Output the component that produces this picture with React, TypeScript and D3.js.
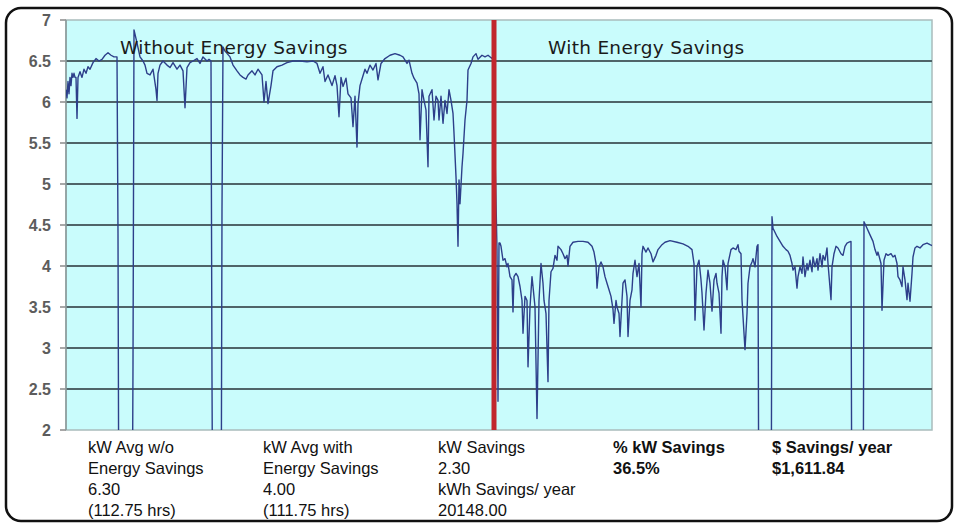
import React from 'react';
import * as d3 from 'd3';

const width = 958;
const height = 523;

// y axis ticks (kW)
const yTicks = [2, 2.5, 3, 3.5, 4, 4.5, 5, 5.5, 6, 6.5, 7];

// [hour, kW] readings before the switch-over
const withoutSavings: [number, number][] = [
  [0, 6.15], [0.25, 6.05], [0.5, 6.25], [0.75, 6.1], [1, 6.3], [1.25, 6.2], [1.5, 6.35], [1.75, 6.3],
  [2, 6.35], [2.25, 6.3], [2.5, 6.3], [2.75, 5.8], [3, 6.3], [3.5, 6.37], [4, 6.3], [4.5, 6.4],
  [5, 6.35], [5.5, 6.43], [6, 6.4], [6.75, 6.48], [7.5, 6.53], [8.25, 6.5], [9, 6.52], [9.75, 6.57],
  [10.5, 6.6], [11.25, 6.57], [12, 6.55], [12.75, 6.55], [13, 4.4], [13.25, 0],
  [16.5, 0], [16.75, 2.8], [17, 6.88], [17.75, 6.72], [18.5, 6.55], [19.25, 6.5], [19.75, 6.45],
  [20.25, 6.35], [21, 6.33], [21.75, 6.4], [22.5, 6.15], [22.75, 6.02], [23, 6.35], [23.5, 6.45],
  [24.25, 6.5], [25.25, 6.45], [26, 6.42], [26.75, 6.48], [27.75, 6.4], [28.5, 6.45], [29.25, 6.38],
  [29.75, 5.93], [30.25, 6.42], [31, 6.48], [31.75, 6.5], [32.75, 6.53], [33.5, 6.47], [34.25, 6.55],
  [35.25, 6.5], [35.75, 6.52], [36.25, 6.5], [36.5, 2.6], [36.75, 0],
  [38.75, 0], [39, 4.7], [39.25, 6.67], [39.75, 6.62], [41, 6.55], [41.75, 6.45], [42.75, 6.38],
  [43.5, 6.33], [44.25, 6.3], [45, 6.28], [45.5, 6.33], [46.5, 6.38], [47.25, 6.33], [48, 6.4],
  [49, 6.33], [49.5, 6.0], [50, 6.25], [50.5, 5.98], [51.25, 6.2], [51.75, 6.38], [52.75, 6.43],
  [54, 6.45], [55.25, 6.48], [56.75, 6.5], [58.5, 6.5], [60.25, 6.49], [61.75, 6.5], [62.75, 6.47],
  [63.5, 6.35], [64.25, 6.43], [64.75, 6.25], [65.5, 6.33], [66.5, 6.2], [67.25, 6.32], [67.75, 6.2],
  [68.25, 5.82], [68.75, 6.3], [69.25, 6.19], [70, 6.29], [70.5, 6.1], [71.25, 6.05], [71.75, 5.7],
  [72.25, 6.07], [72.75, 5.45], [73, 5.98], [73.5, 6.2], [74.25, 6.32], [74.75, 6.4], [75.25, 6.35],
  [76, 6.45], [76.75, 6.39], [77.5, 6.47], [78, 6.27], [78.75, 6.47], [79.75, 6.53], [81, 6.57],
  [82.25, 6.59], [83.5, 6.57], [84.25, 6.55], [85.25, 6.47], [85.75, 6.51], [86.5, 6.35], [87, 6.29],
  [87.75, 6.23], [88.25, 6.1], [88.5, 5.54], [89, 6.15], [89.5, 6.02], [90, 5.9], [90.5, 5.21],
  [90.75, 6.07], [91.5, 6.15], [92, 5.78], [92.5, 6.07], [93, 6.02], [93.25, 5.78], [93.75, 6.07],
  [94.25, 5.74], [94.75, 6.02], [95.25, 5.86], [95.75, 6.15], [96.25, 6.02], [96.75, 5.86], [97, 5.62],
  [97.5, 5.09], [97.75, 4.76], [98, 4.24], [98.25, 5.05], [98.5, 4.76], [99, 5.21], [99.25, 5.37],
  [99.75, 5.78], [100.25, 6.02], [100.5, 6.39], [101.25, 6.47], [101.75, 6.55], [102.5, 6.59],
  [103, 6.52], [104, 6.57], [104.75, 6.55], [105.5, 6.57], [106.5, 6.53], [106.75, 6.55],
];

// [hour, kW] readings after the switch-over
const withSavings: [number, number][] = [
  [107.75, 4.2], [108, 2.35], [108.25, 4.28], [108.5, 4.28], [108.75, 4.24], [109.25, 4.07],
  [109.75, 4.09], [110.25, 3.99], [110.5, 4.03], [111, 3.87], [111.5, 3.83], [111.75, 3.44],
  [112, 3.87], [112.5, 3.91], [113, 3.87], [113.5, 3.75], [114, 3.58], [114.25, 3.18], [114.75, 3.63],
  [115.25, 3.58], [115.5, 2.77], [116, 3.5], [116.5, 3.87], [116.75, 3.75], [117.25, 3.5],
  [117.75, 2.14], [118.25, 3.58], [118.75, 4.03], [119.25, 3.79], [119.5, 3.58], [120, 3.42],
  [120.5, 2.59], [120.75, 3.58], [121.25, 3.93], [121.75, 3.97], [122.25, 4.13], [122.75, 4.07],
  [123, 4.24], [123.75, 4.2], [124.25, 4.15], [124.75, 4.09], [125.25, 4.13], [125.5, 4.0],
  [126, 4.24], [126.75, 4.29], [128, 4.3], [129.25, 4.3], [130.5, 4.29], [131.5, 4.24], [132, 4.17],
  [132.5, 4.03], [132.75, 3.73], [133.25, 3.99], [133.75, 4.05], [134.25, 3.99], [134.75, 3.87],
  [135.25, 3.79], [135.75, 3.71], [136.25, 3.63], [136.75, 3.47], [137, 3.3], [137.5, 3.58],
  [137.75, 3.5], [138.25, 3.42], [138.5, 3.14], [139, 3.58], [139.25, 3.79], [139.75, 3.83],
  [140.25, 3.63], [140.5, 3.14], [141, 3.58], [141.5, 3.71], [141.75, 3.91], [142.25, 4.07],
  [142.75, 3.87], [143.25, 4.03], [143.75, 3.5], [144, 4.15], [144.25, 4.24], [145, 4.17],
  [145.5, 4.22], [146.25, 4.15], [146.75, 4.05], [147.5, 4.13], [148, 4.2], [149, 4.26],
  [149.75, 4.29], [151, 4.31], [152.75, 4.29], [154.25, 4.27], [155.5, 4.24], [156.5, 4.2],
  [157, 4.03], [157.25, 3.34], [157.75, 3.99], [158.25, 4.07], [158.75, 3.83], [159, 3.67],
  [159.5, 3.22], [160, 3.67], [160.5, 3.95], [161, 3.79], [161.5, 3.45], [162, 3.83], [162.5, 3.91],
  [162.75, 3.79], [163.25, 3.67], [163.75, 3.18], [164, 3.87], [164.25, 4.07], [164.75, 3.99],
  [165.25, 3.71], [165.5, 4.03], [166.25, 4.2], [166.75, 4.22], [167.5, 4.2], [168, 4.26],
  [168.25, 4.18], [168.75, 4.15], [169, 3.59], [169.5, 3.18], [169.75, 2.98], [170.25, 3.42],
  [170.5, 3.79], [171, 3.99], [171.5, 4.05], [171.75, 4.09], [172.25, 3.99], [172.75, 4.24],
  [173, 4.26], [173.25, 0],
  [176.25, 0], [176.5, 4.6], [176.75, 4.46], [177.75, 4.36], [178.5, 4.3], [179.25, 4.24], [180, 4.2],
  [180.5, 4.18], [181, 4.13], [181.5, 4.03], [181.75, 3.95], [182.25, 3.99], [182.75, 3.73],
  [183, 3.87], [183.5, 3.99], [184, 3.91], [184.25, 4.11], [184.75, 3.87], [185.25, 4.03],
  [185.5, 3.95], [186, 4.07], [186.5, 3.93], [186.75, 4.11], [187.25, 3.99], [187.75, 4.09],
  [188, 3.95], [188.5, 4.15], [189, 3.99], [189.25, 4.13], [189.75, 4.07], [190.25, 4.22],
  [190.5, 4.03], [191.25, 3.59], [191.5, 3.99], [192, 4.15], [192.5, 4.24], [193, 4.22],
  [193.75, 4.15], [194.25, 4.13], [194.75, 4.24], [195.25, 4.28], [195.75, 4.29], [196.25, 4.3],
  [196.5, 0],
  [199.25, 0], [199.5, 4.54], [200.25, 4.46], [201, 4.38], [201.75, 4.3], [202.25, 4.2],
  [202.75, 4.13], [203, 4.17], [203.75, 4.03], [204, 3.46], [204.5, 4.07], [205, 4.15], [205.5, 4.13],
  [206.25, 4.15], [206.75, 4.11], [207.25, 4.13], [207.75, 4.03], [208, 3.87], [208.5, 3.83],
  [209, 3.75], [209.25, 3.99], [209.75, 3.83], [210.25, 3.59], [210.5, 3.79], [211, 3.57],
  [211.5, 3.91], [211.75, 4.11], [212.25, 4.22], [212.75, 4.24], [213.5, 4.22], [214.25, 4.26],
  [215.25, 4.28], [216, 4.26], [216.5, 4.25],
];

const hourDomain = [0, 216.5];
const switchHour = 107;

const periodLabels = ['Without Energy Savings', 'With Energy Savings'];

const summaryColumns = [
  { lines: ['kW Avg w/o', 'Energy Savings', '6.30', '(112.75 hrs)'], bold: false },
  { lines: ['kW Avg with', 'Energy Savings', '4.00', '(111.75 hrs)'], bold: false },
  { lines: ['kW Savings', '2.30', 'kWh Savings/ year', '20148.00'], bold: false },
  { lines: ['% kW Savings', '36.5%'], bold: true },
  { lines: ['$ Savings/ year', '$1,611.84'], bold: true },
];

// layout
const plot = { left: 66, right: 932, top: 20, bottom: 430 };
const periodLabelX = [120, 548];
const summaryX = [88, 263, 438, 613, 772];

export default function App() {
  const x = d3.scaleLinear().domain(hourDomain).range([plot.left, plot.right]);
  const y = d3.scaleLinear().domain([2, 7]).range([plot.bottom, plot.top]);

  const line = d3
    .line<[number, number]>()
    .x(d => x(d[0]))
    .y(d => y(d[1]));

  const readings = [...withoutSavings, ...withSavings];

  return (
    <svg
      width={width}
      height={height}
      style={{ position: 'absolute', left: 0, top: 0, background: '#fff' }}
    >
      <defs>
        <clipPath id="plot-clip">
          <rect x={plot.left} y={plot.top} width={plot.right - plot.left} height={plot.bottom - plot.top} />
        </clipPath>
      </defs>

      <rect x={6} y={8} width={946} height={513} rx={15} fill="#fff" stroke="#111" strokeWidth={2.5} />

      <rect
        x={plot.left}
        y={plot.top}
        width={plot.right - plot.left}
        height={plot.bottom - plot.top}
        fill="#c9fcfc"
        stroke="#a9bcbc"
        strokeWidth={1.5}
      />

      {yTicks.filter(t => t > 2 && t < 7).map(t => (
        <line key={t} x1={plot.left} x2={plot.right} y1={y(t)} y2={y(t)} stroke="#4f6468" strokeWidth={2} />
      ))}

      <g fontFamily="'Liberation Sans', Arial, sans-serif" fontWeight="bold" fontSize={16} fill="#5c5c5c">
        {yTicks.map(t => (
          <g key={t}>
            <line x1={plot.left - 6} x2={plot.left} y1={y(t)} y2={y(t)} stroke="#8a8a8a" strokeWidth={1.5} />
            <text x={51} y={y(t)} dy="0.35em" textAnchor="end">{String(t)}</text>
          </g>
        ))}
      </g>
      <line x1={plot.left} x2={plot.left} y1={plot.top} y2={plot.bottom} stroke="#8a9a9a" strokeWidth={1.5} />

      <path
        d={line(readings) ?? ''}
        clipPath="url(#plot-clip)"
        fill="none"
        stroke="#2d3f8a"
        strokeWidth={1.4}
        strokeLinejoin="round"
      />

      <line
        x1={x(switchHour)}
        x2={x(switchHour)}
        y1={plot.top}
        y2={plot.bottom}
        stroke="#c1272d"
        strokeWidth={5}
      />

      <g fontFamily="'DejaVu Sans', Verdana, sans-serif" fontSize={18.5} fill="#1a1a1a">
        {periodLabels.map((label, i) => (
          <text key={label} x={periodLabelX[i]} y={54} letterSpacing={0.3}>{label}</text>
        ))}
      </g>

      <g fontFamily="'Liberation Sans', Arial, sans-serif" fontSize={16.5} fill="#111">
        {summaryColumns.map((col, i) => (
          <text key={i} x={summaryX[i]} y={453} fontWeight={col.bold ? 'bold' : 'normal'}>
            {col.lines.map((ln, j) => (
              <tspan key={j} x={summaryX[i]} dy={j === 0 ? 0 : 21}>{ln}</tspan>
            ))}
          </text>
        ))}
      </g>
    </svg>
  );
}
